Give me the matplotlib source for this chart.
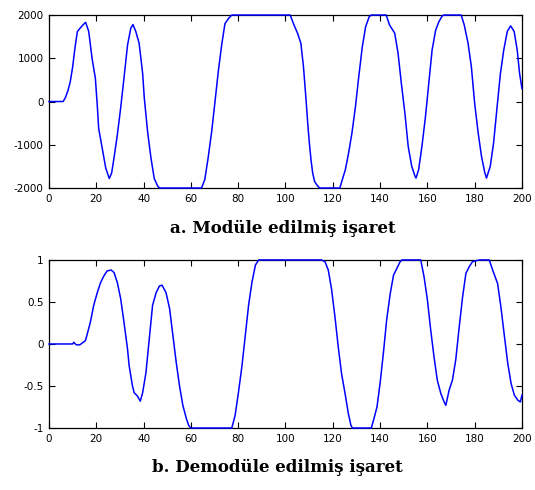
import numpy as np
import matplotlib
matplotlib.use("Agg")
import matplotlib.pyplot as plt

plt.rcParams['font.family'] = ['DejaVu Sans']
plt.rcParams['axes.unicode_minus'] = False

# modüle edilmiş işaret (okunan değerler)
mod_x = [0, 6, 7, 8, 9, 10, 11, 12, 13.2, 14.5, 15.5, 16.8, 18.2, 19.6, 20.4, 21,
         22.5, 24, 25.5, 26.5, 27.5, 28.9, 30.3, 31.7, 33.2, 34.6, 35.5, 36.7, 38.1,
         39.6, 40.3, 41.7, 43.1, 44.5, 46, 46.8, 64.5, 65.9, 67.3, 68.8, 70.2, 71.6,
         73, 74.4, 75.9, 77.3, 102, 103.6, 105.1, 106.5, 107.6, 108.7, 109.4, 110.1,
         110.8, 111.5, 112.3, 113.7, 114.5, 123, 123.8, 125.3, 126.7, 128.1, 129.6,
         131, 132.5, 133.9, 135.4, 136.2, 142.6, 144, 146.2, 147.6, 149, 150.5,
         151.9, 153.4, 154.8, 155.2, 156.3, 157.7, 159.2, 160.6, 162, 163.5, 164.9,
         166.3, 167, 174.3, 175.6, 177.2, 178.6, 180, 181.5, 182.9, 184.3, 185,
         186.6, 188, 189.5, 190.9, 192.3, 193.8, 195.2, 196.7, 198, 199, 200]
mod_y = [0, 0, 100, 250, 460, 800, 1250, 1620, 1700, 1780, 1830, 1620, 1000, 540, -80,
         -620, -1080, -1540, -1780, -1650, -1300, -770, -150, 540, 1300, 1700, 1780,
         1620, 1350, 650, 80, -700, -1300, -1780, -1960, -2000, -2000, -1800, -1300,
         -690, 0, 700, 1300, 1800, 1920, 2000, 2000, 1770, 1580, 1350, 810, 40, -500,
         -960, -1350, -1650, -1850, -1960, -2000, -2000, -1850, -1580, -1190, -730,
         -115, 580, 1270, 1730, 1960, 2000, 2000, 1770, 1580, 1120, 420, -270, -1040,
         -1500, -1730, -1770, -1580, -1040, -350, 420, 1190, 1650, 1850, 1980, 2000,
         2000, 1770, 1350, 810, -40, -730, -1270, -1650, -1770, -1500, -960, -120,
         650, 1190, 1620, 1750, 1620, 1190, 650, 300]

# demodüle edilmiş işaret
dem_x = [0, 10, 10.5, 11.5, 13, 14, 15.4, 16, 17.5, 18.9, 20.4, 21.8, 23.2, 24.6,
         26.3, 27.5, 28.9, 30.3, 31.7, 33.2, 33.9, 35.3, 36, 37.4, 38.6, 39.6, 41,
         42.4, 43.8, 45.3, 46.7, 47.8, 49.5, 51, 52.4, 53.8, 55.2, 56.6, 58.1, 59.1,
         60, 77.3, 78.7, 80.1, 81.6, 83, 84.4, 85.8, 87.3, 88.7, 115.2, 116.7, 118.1,
         119.5, 120.9, 122.3, 123.7, 125.2, 126.6, 127.7, 128.3, 136.3, 137.3, 138.7,
         140, 141.4, 142.8, 144.3, 145.7, 147.1, 148.5, 149.3, 157.2, 158.6, 160,
         161.4, 162.8, 164.2, 165.7, 167.1, 167.8, 169.2, 170.6, 172, 173.5, 174.9,
         176.3, 177.7, 179.1, 180.6, 182, 186.2, 187.6, 189.7, 191.1, 192.6, 194,
         195.4, 196.8, 198.3, 199.3, 200]
dem_y = [0, 0, 0.02, -0.01, -0.01, 0.01, 0.04, 0.1, 0.26, 0.46, 0.61, 0.73, 0.81, 0.87,
         0.88, 0.85, 0.73, 0.54, 0.26, -0.06, -0.26, -0.5, -0.58, -0.62, -0.68, -0.58,
         -0.34, 0.06, 0.46, 0.61, 0.69, 0.7, 0.61, 0.42, 0.1, -0.22, -0.5, -0.73,
         -0.89, -0.97, -1, -1, -0.85, -0.58, -0.26, 0.1, 0.46, 0.73, 0.94, 1, 1, 0.98,
         0.88, 0.65, 0.33, -0.03, -0.35, -0.59, -0.83, -0.97, -1, -1, -0.9, -0.75,
         -0.47, -0.11, 0.29, 0.6, 0.82, 0.9, 0.98, 1, 1, 0.8, 0.53, 0.17, -0.15,
         -0.43, -0.59, -0.69, -0.73, -0.55, -0.43, -0.19, 0.21, 0.56, 0.84, 0.92,
         0.98, 0.99, 1, 1, 0.88, 0.72, 0.44, 0.09, -0.23, -0.47, -0.61, -0.67, -0.69,
         -0.61]

x_ticks = list(range(0, 201, 20))
mod_ticks = [-2000, -1000, 0, 1000, 2000]
dem_ticks = [-1, -0.5, 0, 0.5, 1]
dem_tick_labels = ['-1', '-0.5', '0', '0.5', '1']

fig = plt.figure(figsize=(5.35, 4.9), dpi=100)
ax1 = fig.add_axes([0.0916, 0.6163, 0.884, 0.353])
ax2 = fig.add_axes([0.0916, 0.1265, 0.884, 0.343])


def style(ax):
    ax.tick_params(direction='in', top=True, right=True, length=4, width=0.8,
                   labelsize=7.5, pad=4)
    for s in ax.spines.values():
        s.set_linewidth(0.9)
        s.set_zorder(1)


# çizgi sınırlarda da görünsün diye kırpma kapalı
ax1.plot(mod_x, mod_y, color='#0000ff', lw=1.1, clip_on=False, zorder=3)
ax1.set_xlim(0, 200)
ax1.set_ylim(-2000, 2000)
ax1.set_xticks(x_ticks)
ax1.set_yticks(mod_ticks)
style(ax1)

ax2.plot(dem_x, dem_y, color='#0000ff', lw=1.1, clip_on=False, zorder=3)
ax2.set_xlim(0, 200)
ax2.set_ylim(-1, 1)
ax2.set_xticks(x_ticks)
ax2.set_yticks(dem_ticks)
ax2.set_yticklabels(dem_tick_labels)
style(ax2)

serif = ['DejaVu Serif', 'Liberation Serif']
fig.text(283 / 535, 1 - 228 / 490, 'a. Modüle edilmiş işaret', ha='center', va='center',
         family=serif, weight='bold', fontsize=12)
fig.text(277 / 535, 1 - 467 / 490, 'b. Demodüle edilmiş işaret', ha='center', va='center',
         family=serif, weight='bold', fontsize=12)

fig.savefig('out.png', dpi=100)
